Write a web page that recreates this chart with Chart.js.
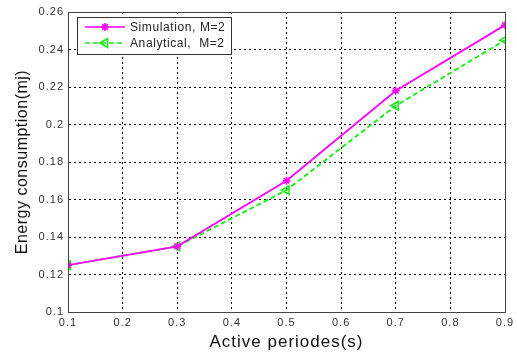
<!DOCTYPE html>
<html>
<head>
<meta charset="utf-8">
<script src="https://cdn.jsdelivr.net/npm/chart.js@4.4.0/dist/chart.umd.min.js"></script>
<style>
  html, body { margin: 0; padding: 0; background: #fff; }
  #wrap { width: 517px; height: 353px; }
</style>
</head>
<body>
<div id="wrap"><canvas id="chart" width="517" height="353"></canvas></div>
<script>
// values
const activePeriods = [0.1, 0.3, 0.5, 0.7, 0.9];
const simulation = [0.125, 0.135, 0.170, 0.218, 0.253];
const analytical = [0.125, 0.135, 0.165, 0.210, 0.245];
const legendLabels = ['Simulation, M=2', 'Analytical,  M=2'];
const xTitle = 'Active periodes(s)';
const yTitle = 'Energy consumption(mj)';

const FONT = '"Liberation Sans", Arial, sans-serif';
const toPoints = (xs, ys) => xs.map((x, i) => ({ x: x, y: ys[i] }));

// matlab-ish wide text spacing for tick labels
const spacing = {
    id: 'spacing',
    beforeDraw(chart) { chart.ctx.letterSpacing = '1px'; }
};

// box around plot, axis titles, legend in the top-left corner
const boxAndLegend = {
    id: 'boxAndLegend',
    afterDraw(chart) {
        const ctx = chart.ctx;
        const a = chart.chartArea;
        ctx.save();
        ctx.strokeStyle = '#444';
        ctx.lineWidth = 1;
        ctx.strokeRect(a.left + 0.5, a.top + 0.5, a.right - a.left, a.bottom - a.top);

        // axis titles
        ctx.fillStyle = '#111';
        ctx.textAlign = 'center';
        ctx.textBaseline = 'alphabetic';
        ctx.font = '17px ' + FONT;
        ctx.letterSpacing = '1px';
        ctx.fillText(xTitle, (a.left + a.right) / 2, 347);
        ctx.save();
        ctx.translate(27, (a.top + a.bottom) / 2);
        ctx.rotate(-Math.PI / 2);
        ctx.font = '16px ' + FONT;
        ctx.letterSpacing = '0.5px';
        ctx.fillText(yTitle, 0, 0);
        ctx.restore();

        // legend
        const lx = a.left + 9, ly = a.top + 5, lw = 154, lh = 37;
        ctx.fillStyle = '#fff';
        ctx.fillRect(lx, ly, lw, lh);
        ctx.strokeStyle = '#333';
        ctx.strokeRect(lx + 0.5, ly + 0.5, lw, lh);

        const rows = [
            { y: ly + 10, color: '#ff00ff', fill: '#ff00ff', dash: [], style: 'star', rot: 0, r: 4 },
            { y: ly + 26, color: '#11ee11', fill: 'rgba(0,0,0,0)', dash: [5, 3], style: 'triangle', rot: -90, r: 5 }
        ];
        ctx.font = '12px ' + FONT;
        ctx.letterSpacing = '0.6px';
        ctx.textAlign = 'left';
        ctx.textBaseline = 'middle';
        rows.forEach((r, i) => {
            ctx.strokeStyle = r.color;
            ctx.lineWidth = 1.6;
            ctx.setLineDash(r.dash);
            ctx.beginPath();
            ctx.moveTo(lx + 8, r.y);
            ctx.lineTo(lx + 48, r.y);
            ctx.stroke();
            ctx.setLineDash([]);
            ctx.fillStyle = r.fill;
            Chart.helpers.drawPoint(ctx, {
                pointStyle: r.style, radius: r.r, rotation: r.rot, borderWidth: 1.5
            }, lx + 28, r.y);
            ctx.fillStyle = '#222';
            ctx.fillText(legendLabels[i], lx + 53, r.y + 1);
        });
        ctx.restore();
        ctx.letterSpacing = '0px';
    }
};

new Chart(document.getElementById('chart'), {
    type: 'line',
    data: {
        datasets: [{
            label: legendLabels[0],
            data: toPoints(activePeriods, simulation),
            borderColor: '#ff00ff',
            backgroundColor: '#ff00ff',
            borderWidth: 1.8,
            pointStyle: 'star',
            pointRadius: 4,
            pointBorderWidth: 1.5,
            tension: 0
        }, {
            label: legendLabels[1],
            data: toPoints(activePeriods, analytical),
            borderColor: '#11ee11',
            backgroundColor: 'rgba(0,0,0,0)',
            borderWidth: 1.8,
            borderDash: [5, 3],
            pointStyle: 'triangle',
            pointRotation: -90,
            pointRadius: 5,
            pointBorderWidth: 1.5,
            tension: 0
        }]
    },
    options: {
        responsive: false,
        animation: false,
        layout: { padding: { top: 12, right: 12, left: 0, bottom: 0 } },
        plugins: {
            legend: { display: false },
            tooltip: { enabled: false }
        },
        scales: {
            x: {
                type: 'linear',
                min: 0.1,
                max: 0.9,
                afterFit: s => { s.height = 41; },
                ticks: {
                    stepSize: 0.1,
                    color: '#333',
                    padding: 4,
                    font: { family: FONT, size: 11 },
                    callback: v => String(Math.round(v * 10) / 10)
                },
                grid: { color: '#000', lineWidth: 1, drawTicks: false },
                border: { display: true, color: '#444', dash: [2, 3] }
            },
            y: {
                min: 0.1,
                max: 0.26,
                afterFit: s => { s.width = 68; },
                ticks: {
                    stepSize: 0.02,
                    color: '#333',
                    padding: 4,
                    font: { family: FONT, size: 11 },
                    callback: v => String(Math.round(v * 100) / 100)
                },
                grid: { color: '#000', lineWidth: 1, drawTicks: false },
                border: { display: true, color: '#444', dash: [2, 3] }
            }
        }
    },
    plugins: [spacing, boxAndLegend]
});
</script>
</body>
</html>
